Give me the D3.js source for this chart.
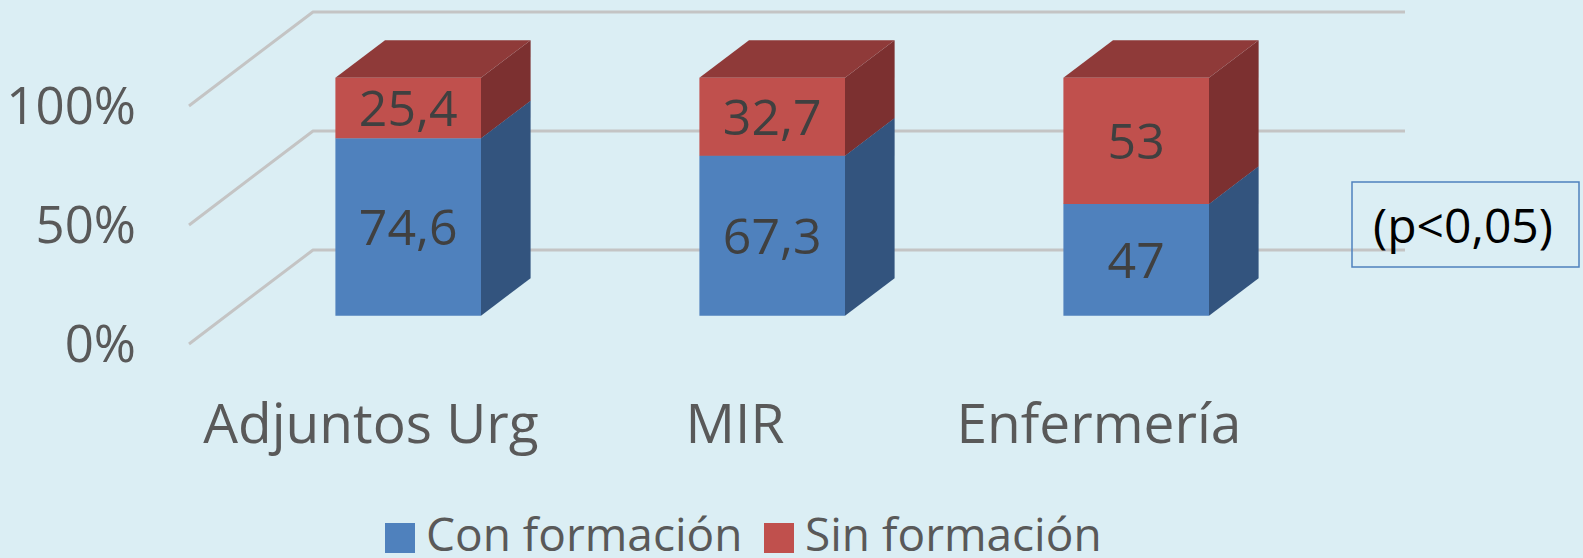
<!DOCTYPE html>
<html>
<head>
<meta charset="utf-8">
<script src="https://cdn.jsdelivr.net/npm/d3@7"></script>
<style>
    body { margin: 0; background: #dbeef4; }
    svg { display: block; font-family: "Open Sans", "Noto Sans", sans-serif; }
</style>
</head>
<body>
<svg width="1583" height="558"></svg>
<script>
// DATA ======================================================================
const categories = ['Adjuntos Urg', 'MIR', 'Enfermería'];
const conFormacion = [74.6, 67.3, 47];
const sinFormacion = [25.4, 32.7, 53];
const seriesNames = ['Con formación', 'Sin formación'];
const yTicks = [0, 50, 100];
const yTickLabels = ['0%', '50%', '100%'];
const noteText = '(p<0,05)';

document.addEventListener('DOMContentLoaded', () => {
    const WIDTH = 1583,
        HEIGHT = 558,
        DEPTH_DX = 124,     // floor depth shift, x
        DEPTH_DY = -94,     // floor depth shift, y
        BAR_Z0 = 0.3,       // bar front depth
        BAR_Z1 = 0.7,       // bar back depth
        BAR_RATIO = 0.4;

    const colors = {
        'Con formación': { front: '#4f81bd', side: '#33547e', top: '#3e6797' },
        'Sin formación': { front: '#c0504d', side: '#7c3030', top: '#8f3a39' }
    };

    let svg = d3.select('svg');

    svg.append('rect')
        .attr('width', WIDTH)
        .attr('height', HEIGHT)
        .attr('fill', '#dbeef4');

    let x = d3.scaleBand()
        .domain(categories)
        .range([189, 1281]);

    let y = d3.scaleLinear()
        .domain([0, 100])
        .range([344, 106]);

    // project a point of the front plane back in depth z (0..1)
    function proj(px, v, z) {
        return [px + z * DEPTH_DX, y(v) + z * DEPTH_DY];
    }

    function pts(arr) {
        return arr.map(p => p.join(',')).join(' ');
    }

    // GRIDLINES =============================================================
    let x0 = x.range()[0], x1 = x.range()[1];
    svg.append('g')
        .selectAll('polyline')
        .data(yTicks)
        .enter()
        .append('polyline')
        .attr('points', t => pts([proj(x0, t, 0), proj(x0, t, 1), proj(x1, t, 1)]))
        .attr('fill', 'none')
        .attr('stroke', '#c4c4c4')
        .attr('stroke-width', 3)
        .attr('stroke-linejoin', 'round');

    // Y AXIS LABELS =========================================================
    svg.append('g')
        .selectAll('text')
        .data(yTicks)
        .enter()
        .append('text')
        .text((d, i) => yTickLabels[i])
        .attr('x', 136)
        .attr('y', d => y(d) + 18)
        .attr('text-anchor', 'end')
        .attr('font-size', 51)
        .attr('fill', '#595959');

    // BARS ==================================================================
    let raw = { 'Con formación': conFormacion, 'Sin formación': sinFormacion };

    let table = categories.map((c, i) => ({
        cat: c,
        'Con formación': conFormacion[i],
        'Sin formación': sinFormacion[i]
    }));

    let stacked = d3.stack().keys(seriesNames)(table);

    let barW = x.bandwidth() * BAR_RATIO;

    let segments = [];
    stacked.forEach(s => {
        s.forEach((d, i) => {
            segments.push({ key: s.key, cat: categories[i], v0: d[0], v1: d[1], value: raw[s.key][i] });
        });
    });

    let segG = svg.append('g')
        .selectAll('g')
        .data(segments)
        .enter()
        .append('g');

    let bx0 = d => x(d.cat) + (x.bandwidth() - barW) / 2;
    let bx1 = d => bx0(d) + barW;

    // side face
    segG.append('polygon')
        .attr('points', d => pts([
            proj(bx1(d), d.v0, BAR_Z0), proj(bx1(d), d.v0, BAR_Z1),
            proj(bx1(d), d.v1, BAR_Z1), proj(bx1(d), d.v1, BAR_Z0)]))
        .attr('fill', d => colors[d.key].side);

    // top face
    segG.append('polygon')
        .attr('points', d => pts([
            proj(bx0(d), d.v1, BAR_Z0), proj(bx0(d), d.v1, BAR_Z1),
            proj(bx1(d), d.v1, BAR_Z1), proj(bx1(d), d.v1, BAR_Z0)]))
        .attr('fill', d => colors[d.key].top);

    // front face
    segG.append('polygon')
        .attr('points', d => pts([
            proj(bx0(d), d.v0, BAR_Z0), proj(bx1(d), d.v0, BAR_Z0),
            proj(bx1(d), d.v1, BAR_Z0), proj(bx0(d), d.v1, BAR_Z0)]))
        .attr('fill', d => colors[d.key].front);

    // data labels
    svg.append('g')
        .selectAll('text')
        .data(segments)
        .enter()
        .append('text')
        .text(d => String(d.value).replace('.', ','))
        .attr('x', d => proj((bx0(d) + bx1(d)) / 2, 0, BAR_Z0)[0])
        .attr('y', d => proj(0, (d.v0 + d.v1) / 2, BAR_Z0)[1] + 18)
        .attr('text-anchor', 'middle')
        .attr('font-size', 50)
        .attr('fill', '#404040');

    // CATEGORY LABELS =======================================================
    svg.append('g')
        .selectAll('text')
        .data(categories)
        .enter()
        .append('text')
        .text(d => d)
        .attr('x', d => x(d) + x.bandwidth() / 2)
        .attr('y', 443)
        .attr('text-anchor', 'middle')
        .attr('font-size', 55)
        .attr('fill', '#595959');

    // LEGEND ================================================================
    let legendX = [385, 764];
    let legend = svg.append('g')
        .selectAll('g')
        .data(seriesNames)
        .enter()
        .append('g')
        .attr('transform', (d, i) => `translate(${legendX[i]},523)`);

    legend.append('rect')
        .attr('width', 30)
        .attr('height', 30)
        .attr('fill', d => colors[d].front);

    legend.append('text')
        .text(d => d)
        .attr('x', 41)
        .attr('y', 28)
        .attr('font-size', 46)
        .attr('fill', '#595959');

    // NOTE BOX ==============================================================
    svg.append('rect')
        .attr('x', 1352)
        .attr('y', 182)
        .attr('width', 227)
        .attr('height', 85)
        .attr('fill', 'none')
        .attr('stroke', '#4f81bd')
        .attr('stroke-width', 1.5);

    svg.append('text')
        .text(noteText)
        .attr('x', 1463)
        .attr('y', 243)
        .attr('text-anchor', 'middle')
        .attr('font-size', 48)
        .attr('fill', '#000');
});
</script>
</body>
</html>
